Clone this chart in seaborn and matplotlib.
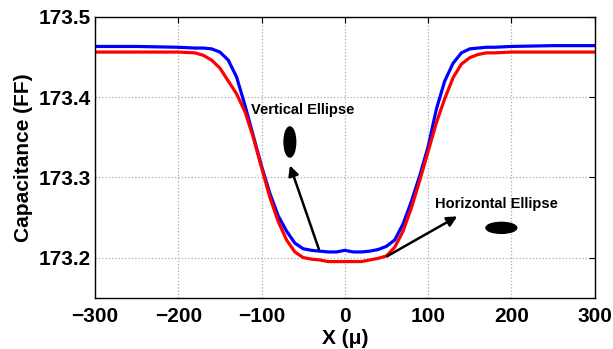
import pandas as pd
import seaborn as sns
import matplotlib.pyplot as plt
from matplotlib.patches import Ellipse

# Values
x_pos = [-300, -250, -200, -180, -170, -160, -150, -140, -130, -120, -110, -100,
         -90, -80, -70, -60, -50, -40, -30, -20, -10, 0, 10, 20, 30, 40, 50,
         60, 70, 80, 90, 100, 110, 120, 130, 140, 150, 160, 170, 180, 200, 250, 300]
cap_blue = [173.463, 173.463, 173.462, 173.461, 173.461, 173.460, 173.456, 173.446,
            173.425, 173.390, 173.352, 173.314, 173.280, 173.252, 173.233, 173.218,
            173.211, 173.209, 173.208, 173.207, 173.207, 173.209, 173.207, 173.207,
            173.208, 173.210, 173.214, 173.222, 173.242, 173.270, 173.302, 173.338,
            173.385, 173.420, 173.442, 173.455, 173.460, 173.461, 173.462, 173.462,
            173.463, 173.464, 173.464]
cap_red = [173.456, 173.456, 173.456, 173.455, 173.452, 173.446, 173.436, 173.420,
           173.404, 173.382, 173.350, 173.312, 173.275, 173.245, 173.222, 173.207,
           173.200, 173.198, 173.197, 173.195, 173.195, 173.195, 173.195, 173.195,
           173.197, 173.199, 173.202, 173.213, 173.233, 173.262, 173.296, 173.332,
           173.368, 173.398, 173.424, 173.441, 173.449, 173.453, 173.455, 173.455,
           173.456, 173.456, 173.456]

df = pd.DataFrame({
    "x": x_pos + x_pos,
    "cap": cap_blue + cap_red,
    "curve": ["blue"] * len(x_pos) + ["red"] * len(x_pos),
})

sns.set_style("white")
plt.rcParams["font.family"] = ["Liberation Sans", "DejaVu Sans"]
plt.rcParams["text.color"] = "black"
plt.rcParams["axes.labelcolor"] = "black"
plt.rcParams["xtick.color"] = "black"
plt.rcParams["ytick.color"] = "black"

fig = plt.figure(figsize=(6.13, 3.49), dpi=100)
ax = fig.add_axes([0.155, 0.147, 0.815, 0.805])

sns.lineplot(data=df, x="x", y="cap", hue="curve",
             palette={"blue": "#0000ff", "red": "#ff0000"},
             linewidth=2.3, legend=False, ax=ax, sort=False, estimator=None)

ax.set_xlim(-300, 300)
ax.set_ylim(173.15, 173.5)
ax.set_xticks([-300, -200, -100, 0, 100, 200, 300])
ax.set_xticklabels(["\u2212300", "\u2212200", "\u2212100", "0", "100", "200", "300"])
ax.set_yticks([173.2, 173.3, 173.4, 173.5])
ax.set_yticklabels(["173.2", "173.3", "173.4", "173.5"])
ax.tick_params(labelsize=15, direction="in", top=True, right=True, length=4,
               color="black", labelcolor="black", pad=3)
ax.tick_params(axis="x", pad=7)
for lab in ax.get_xticklabels() + ax.get_yticklabels():
    lab.set_fontweight("bold")
ax.grid(True, linestyle=":", color="#aaaaaa", linewidth=0.9)
for sp in ax.spines.values():
    sp.set_color("black")
    sp.set_linewidth(1.0)

ax.set_xlabel("X (\u03bc)", fontsize=15, fontweight="bold", labelpad=2, color="black")
ax.set_ylabel("Capacitance (FF)", fontsize=15, fontweight="bold", labelpad=4, color="black")

# Annotations
ax.annotate("", xy=(-67, 173.318), xytext=(-30, 173.207),
            arrowprops=dict(arrowstyle="-|>", color="black", lw=1.8, mutation_scale=15))
ax.annotate("", xy=(138, 173.253), xytext=(48, 173.200),
            arrowprops=dict(arrowstyle="-|>", color="black", lw=1.8, mutation_scale=15))
ax.text(-113, 173.384, "Vertical Ellipse", fontsize=10.5, fontweight="bold",
        va="center", color="black")
ax.text(108, 173.267, "Horizontal Ellipse", fontsize=10.5, fontweight="bold",
        va="center", color="black")
ax.add_patch(Ellipse((-66, 173.344), 14, 0.0375, color="black"))
ax.add_patch(Ellipse((188, 173.237), 37, 0.0137, color="black"))

fig.savefig("out.png", dpi=100)
